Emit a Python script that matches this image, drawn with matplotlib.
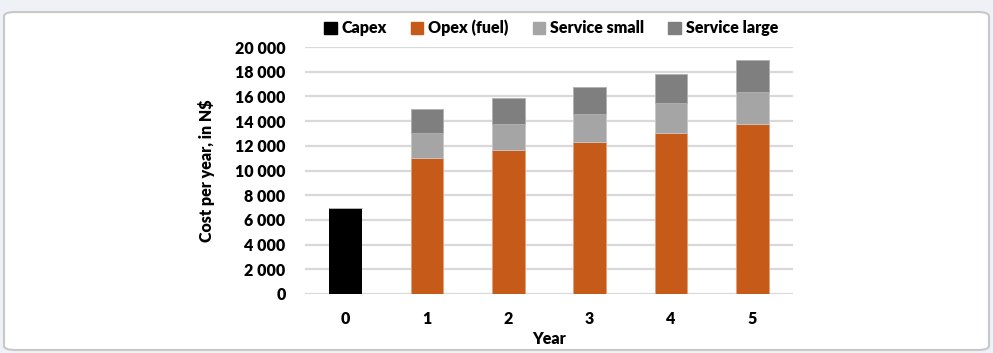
import matplotlib
matplotlib.use("Agg")
import matplotlib.pyplot as plt
from matplotlib.patches import FancyBboxPatch, Patch
import numpy as np

years = ["0", "1", "2", "3", "4", "5"]
capex = [7000, 0, 0, 0, 0, 0]
opex = [0, 11000, 11700, 12300, 13000, 13800]
service_small = [0, 2000, 2050, 2300, 2500, 2550]
service_large = [0, 1950, 2100, 2200, 2350, 2600]
yticks = [0, 2000, 4000, 6000, 8000, 10000, 12000, 14000, 16000, 18000, 20000]
ytick_labels = ["0", "2 000", "4 000", "6 000", "8 000", "10 000", "12 000",
                "14 000", "16 000", "18 000", "20 000"]

plt.rcParams['font.family'] = ['Lato', 'DejaVu Sans']
plt.rcParams['font.weight'] = 'heavy'
FS = 11.5
FW = 'heavy'

fig = plt.figure(figsize=(9.93, 3.53), dpi=100)
fig.patch.set_facecolor('#eef1f6')
frame = FancyBboxPatch((4/993, 3/353), 985/993, 338/353,
                       boxstyle="round,pad=0,rounding_size=0.012",
                       transform=fig.transFigure, facecolor='white',
                       edgecolor='#c8c8c8', linewidth=1.5, zorder=-5)
fig.patches.append(frame)

ax = fig.add_axes([305/993, 1 - 294/353, 488/993, 247/353])
ax.set_zorder(2)
ax.set_facecolor('none')
x = np.arange(len(years))
w = 0.4
c_capex, c_opex, c_small, c_large = '#000000', '#c55a19', '#a5a5a5', '#7f7f7f'

ax.bar(x, capex, w, color=c_capex, zorder=3)
ax.bar(x, opex, w, bottom=capex, color=c_opex, edgecolor='#e8a07a', linewidth=0.6, zorder=3)
b2 = np.array(capex) + np.array(opex)
ax.bar(x, service_small, w, bottom=b2, color=c_small, edgecolor='#c8c8c8', linewidth=0.6, zorder=3)
b3 = b2 + np.array(service_small)
ax.bar(x, service_large, w, bottom=b3, color=c_large, edgecolor='#b0b0b0', linewidth=0.6, zorder=3)

ax.set_xlim(-0.5, len(years) - 0.5)
ax.set_ylim(0, 20000)
ax.set_yticks(yticks)
ax.set_yticklabels(ytick_labels, fontweight=FW)
ax.set_xticks(x)
ax.set_xticklabels(years, fontweight=FW)
ax.yaxis.grid(True, color='#d9d9d9', linewidth=1.6, zorder=0)
ax.set_axisbelow(True)
for s in ax.spines.values():
    s.set_visible(False)
ax.tick_params(axis='both', length=0, labelsize=FS, colors='black')
ax.tick_params(axis='y', pad=14)
ax.tick_params(axis='x', pad=12)
ax.set_xlabel("Year", fontsize=FS, fontweight=FW, labelpad=3)
ax.set_ylabel("Cost per year, in N$", fontsize=FS, fontweight=FW, labelpad=14)

handles = [Patch(color=c_capex), Patch(color=c_opex), Patch(color=c_small), Patch(color=c_large)]
fig.legend(handles, ["Capex", "Opex (fuel)", "Service small", "Service large"],
           loc='center', bbox_to_anchor=(551/993, 1 - 28/353), ncol=4, frameon=False,
           prop={'size': FS, 'weight': FW}, handlelength=0.8, handleheight=0.8,
           handletextpad=0.3, columnspacing=1.5)

fig.savefig("out.png", dpi=100)
